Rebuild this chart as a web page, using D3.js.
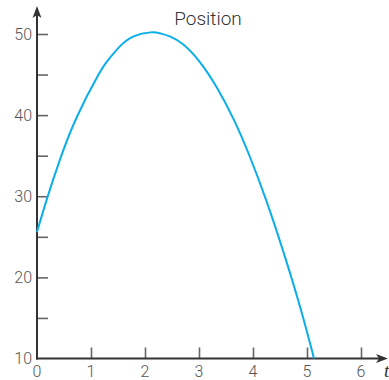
<!DOCTYPE html>
<html>
<head>
<meta charset="utf-8">
<script src="https://cdn.jsdelivr.net/npm/d3@7"></script>
<style>
  html, body { margin: 0; padding: 0; background: #fff; }
  svg { display: block; }
  text { font-family: Roboto, "Liberation Sans", sans-serif; font-weight: 300; }
</style>
</head>
<body>
<svg id="chart" width="389" height="380"></svg>
<script>
// Data
const tValues = [0, 0.19, 0.43, 0.74, 1.14, 1.33, 1.54, 1.79, 2.1, 2.3, 2.46, 2.71, 3.02, 3.33, 3.64, 3.94, 4.25, 4.56, 4.87, 5.13];
const positionValues = [25.6, 29.8, 34.6, 39.8, 45.0, 46.9, 48.5, 49.7, 50.2, 50.05, 49.7, 48.7, 46.5, 43.4, 39.5, 34.9, 29.4, 23.2, 16.4, 10.0];
const xTickValues = [0, 1, 2, 3, 4, 5, 6];
const yTickValues = [10, 15, 20, 25, 30, 35, 40, 45, 50];
const yTickLabels = ["10", "", "20", "", "30", "", "40", "", "50"];
const chartTitle = "Position";
const xAxisLabel = "t";

const svg = d3.select("#chart");
const x = d3.scaleLinear().domain([0, 6]).range([37, 361]);
const y = d3.scaleLinear().domain([10, 50]).range([358.5, 34]);

const axisColor = "#333";
const tickColor = "#666";
const labelColor = "#555";

// Y ticks (pointing right, inside)
const yAxis = d3.axisRight(y).tickValues(yTickValues).tickSize(11).tickFormat("");
const yg = svg.append("g").attr("transform", `translate(${x(0)},0)`).call(yAxis);
yg.select(".domain").remove();
yg.selectAll(".tick line").attr("stroke", tickColor).attr("stroke-width", 1.6);
yg.selectAll(".tick").filter(d => d === 10).remove();

// Y labels
svg.append("g").selectAll("text").data(yTickValues.map((v, i) => ({v, l: yTickLabels[i]})).filter(d => d.l))
  .join("text")
  .attr("x", 32).attr("y", d => y(d.v))
  .attr("text-anchor", "end").attr("dominant-baseline", "central")
  .attr("font-size", 16).attr("fill", labelColor)
  .text(d => d.l);

// X ticks (pointing up)
const xAxis = d3.axisTop(x).tickValues(xTickValues.filter(v => v > 0)).tickSize(11).tickFormat("");
const xg = svg.append("g").attr("transform", `translate(0,${y(10)})`).call(xAxis);
xg.select(".domain").remove();
xg.selectAll(".tick line").attr("stroke", tickColor).attr("stroke-width", 1.6);

// X labels
svg.append("g").selectAll("text").data(xTickValues).join("text")
  .attr("x", d => x(d)).attr("y", 377)
  .attr("text-anchor", "middle")
  .attr("font-size", 16).attr("fill", labelColor)
  .text(d => d);

// Axis lines with arrows
const x0 = x(0), y0 = y(10);
svg.append("line").attr("x1", x0).attr("y1", y0 + 1).attr("x2", x0).attr("y2", 14)
  .attr("stroke", axisColor).attr("stroke-width", 2);
svg.append("path").attr("d", `M${x0},6 L${x0 - 4.5},18 L${x0},15 L${x0 + 4.5},18 Z`).attr("fill", axisColor);
svg.append("line").attr("x1", x0 - 1).attr("y1", y0).attr("x2", 380).attr("y2", y0)
  .attr("stroke", axisColor).attr("stroke-width", 2);
svg.append("path").attr("d", `M388,${y0} L376,${y0 - 4.5} L379,${y0} L376,${y0 + 4.5} Z`).attr("fill", axisColor);

// Axis label t
svg.append("text").attr("x", 384).attr("y", 377)
  .attr("font-size", 19).attr("font-style", "italic").attr("fill", axisColor)
  .style("font-family", "'Liberation Serif', serif").style("font-weight", 400)
  .text(xAxisLabel);

// Curve
const line = d3.line().x(d => x(d)).y((d, i) => y(positionValues[i])).curve(d3.curveNatural);
svg.append("path").datum(tValues).attr("d", line)
  .attr("fill", "none").attr("stroke", "#0AAEEA").attr("stroke-width", 2);

// Title
svg.append("text").attr("x", 208).attr("y", 25).attr("text-anchor", "middle")
  .attr("font-size", 19).attr("fill", "#333").text(chartTitle);
</script>
</body>
</html>
